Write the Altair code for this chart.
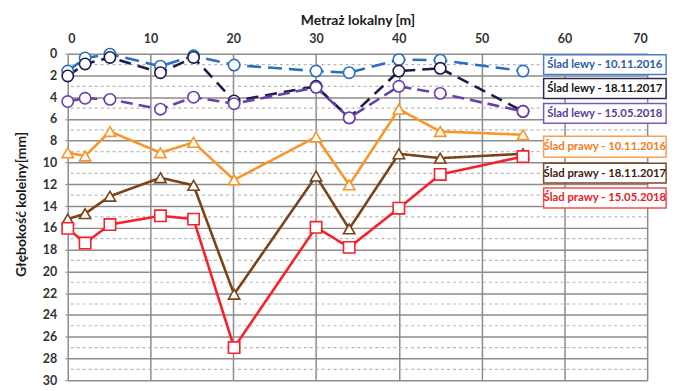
import altair as alt
import pandas as pd

# ---- data ----
metraz = [0, 2.1, 5.1, 11.2, 15.2, 20.1, 30, 34, 40, 45, 55]
lewy_2016 = [1.6, 0.4, 0.05, 1.15, 0.2, 1.05, 1.6, 1.75, 0.55, 0.6, 1.6]
lewy_2017 = [2.05, 0.95, 0.35, 1.75, 0.35, 4.35, 3.0, 5.9, 1.6, 1.35, 5.3]
lewy_2018 = [4.4, 4.1, 4.2, 5.1, 4.0, 4.6, 3.1, 5.9, 3.0, 3.65, 5.3]
prawy_2016 = [9.1, 9.4, 7.15, 9.1, 8.15, 11.6, 7.65, 12.05, 5.1, 7.15, 7.45]
prawy_2017 = [15.2, 14.7, 13.1, 11.4, 12.1, 22.1, 11.25, 16.1, 9.2, 9.6, 9.2]
prawy_2018 = [16.05, 17.4, 15.7, 14.9, 15.2, 27.0, 15.95, 17.8, 14.2, 11.1, 9.45]

series_names = [
    "Ślad lewy - 10.11.2016",
    "Ślad lewy - 18.11.2017",
    "Ślad lewy - 15.05.2018",
    "Ślad prawy - 10.11.2016",
    "Ślad prawy - 18.11.2017",
    "Ślad prawy - 15.05.2018",
]
series_values = [lewy_2016, lewy_2017, lewy_2018, prawy_2016, prawy_2017, prawy_2018]
line_colors = ["#2b6fc0", "#1c1c4a", "#6a40aa", "#f7962a", "#7b4318", "#f5222d"]
text_colors = ["#2a5aa8", "#141414", "#5a3a9a", "#f47b20", "#3a2410", "#e8202a"]
border_colors = ["#4a7cc8", "#2a2a50", "#7a5ab8", "#f7a050", "#7b4a28", "#f05050"]
shapes = ["circle", "circle", "circle", "triangle-up", "triangle-up", "square"]
dashes = [[14, 7], [12, 7], [12, 6], [1, 0], [1, 0], [1, 0]]

x_ticks = [0, 10, 20, 30, 40, 50, 60, 70]
y_ticks = list(range(0, 31, 2))
y_minor = list(range(1, 30, 2))

rows = []
for name, vals in zip(series_names, series_values):
    for i, (xm, v) in enumerate(zip(metraz, vals)):
        rows.append({"seria": name, "metraz": xm, "glebokosc": v, "idx": i})
df = pd.DataFrame(rows)

W, H = 582, 328
FONT = "Lato"

xscale = alt.Scale(domain=[0, 70], nice=False, zero=False)
yscale = alt.Scale(domain=[0, 30], reverse=True, nice=False)

X = alt.X("metraz:Q", scale=xscale,
          axis=alt.Axis(orient="top", values=x_ticks, title="Metraż lokalny [m]",
                        grid=True, gridColor="#8c8c8c", gridWidth=1.5,
                        domain=False, ticks=False, labelPadding=8, titlePadding=5))
Y = alt.Y("glebokosc:Q", scale=yscale,
          axis=alt.Axis(values=y_ticks, title="Głębokość koleiny[mm]",
                        grid=True, gridColor="#8c8c8c", gridWidth=1.5,
                        domain=False, ticks=True, tickSize=3, tickColor="#8c8c8c",
                        labelPadding=8, titleAngle=270, titleX=-46, titleY=151,
                        titleAlign="center", titleBaseline="middle"))

color_scale = alt.Scale(domain=series_names, range=line_colors)
dash_scale = alt.Scale(domain=series_names, range=dashes)
shape_scale = alt.Scale(domain=series_names, range=shapes)

base = alt.Chart(df)

minor = alt.Chart(pd.DataFrame({"glebokosc": y_minor})).mark_rule(
    color="#b8b8b8", strokeDash=[3, 3], strokeWidth=1.2
).encode(y=Y)

lines = base.mark_line(strokeWidth=2.6).encode(
    x=X, y=Y,
    color=alt.Color("seria:N", scale=color_scale, legend=None),
    strokeDash=alt.StrokeDash("seria:N", scale=dash_scale, legend=None),
    detail="seria:N",
    order="idx:Q",
)

points = base.mark_point(filled=True, strokeWidth=1.6, opacity=1).encode(
    x=X, y=Y,
    stroke=alt.Stroke("seria:N", scale=color_scale, legend=None),
    fill=alt.value("white"),
    shape=alt.Shape("seria:N", scale=shape_scale, legend=None),
    size=alt.value(130),
)

# legend boxes (plot-relative pixel positions)
box_y = [(1, 21), (25, 45), (50, 70), (83, 104), (110, 130), (135, 155)]
box_x = (478, 601)
one = pd.DataFrame({"a": [0]})
legend_layers = []
for name, tc, bc, (y0, y1) in zip(series_names, text_colors, border_colors, box_y):
    legend_layers.append(
        alt.Chart(one).mark_rect(fill="white", stroke=bc, strokeWidth=1.5).encode(
            x=alt.value(box_x[0]), x2=alt.value(box_x[1]), y=alt.value(y0), y2=alt.value(y1)
        )
    )
    legend_layers.append(
        alt.Chart(one).mark_text(text=name, font=FONT, fontWeight="bold", fontSize=11.4,
                                 color=tc, align="center", baseline="middle").encode(
            x=alt.value((box_x[0] + box_x[1]) / 2), y=alt.value((y0 + y1) / 2 + 0.5)
        )
    )

chart = alt.layer(minor, lines, points, *legend_layers).properties(
    width=W, height=H,
    autosize=alt.AutoSizeParams(type="none"),
    padding={"left": 60, "top": 45, "right": 40, "bottom": 10},
).configure(background="white").configure_view(stroke=None).configure_axis(
    labelFont=FONT, labelFontWeight="bold", labelFontSize=12.5, labelColor="#333333",
    titleFont=FONT, titleFontWeight="bold", titleFontSize=14, titleColor="#1a1a1a",
)

chart.save("out.html", embed_options={"renderer": "svg", "actions": False})
